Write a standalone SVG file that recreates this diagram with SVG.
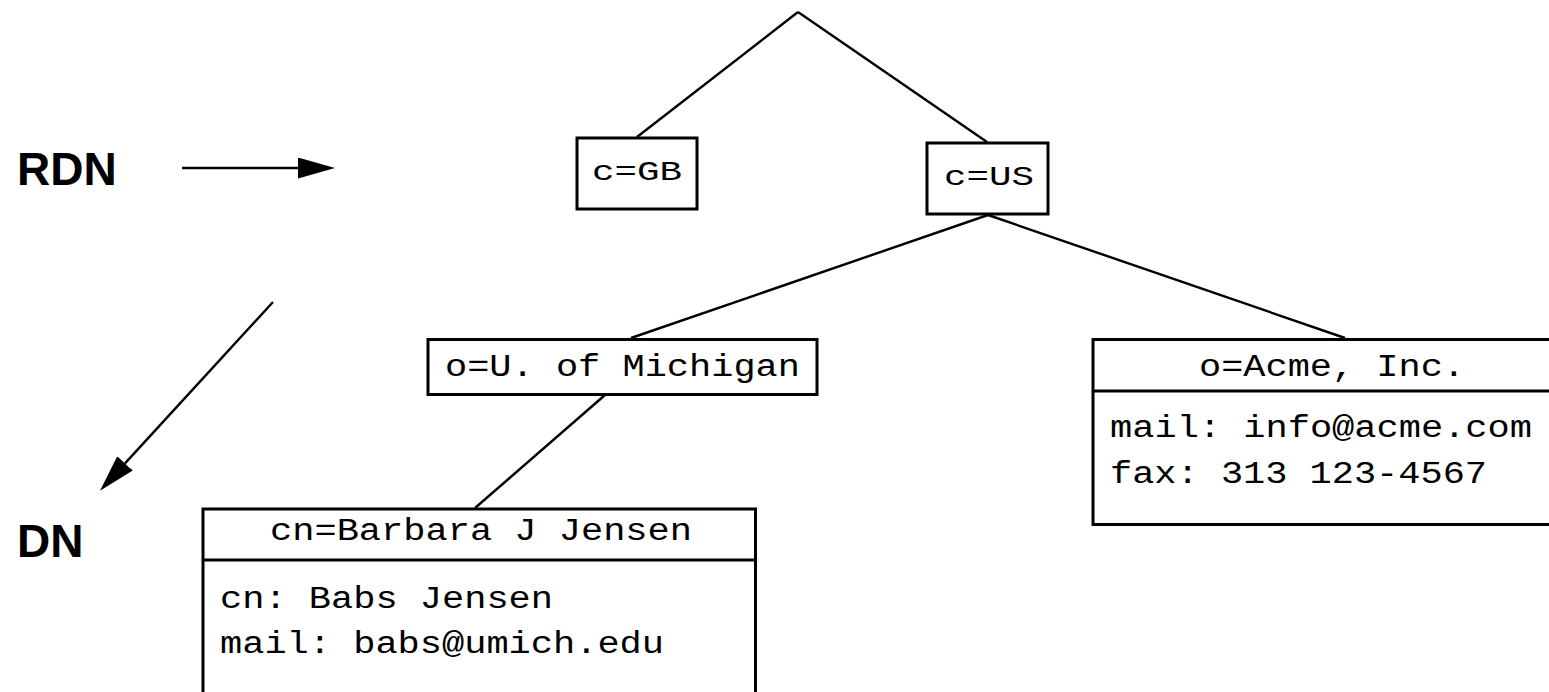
<svg xmlns="http://www.w3.org/2000/svg" width="1549" height="692" viewBox="0 0 1549 692">
<style>
.box{fill:#fff;stroke:#000;stroke-width:3}
.div{stroke:#000;stroke-width:3}
.edge{stroke:#000;stroke-width:2.4;fill:none}
.mono{font-family:"Liberation Mono","DejaVu Sans Mono",monospace;font-size:31px;fill:#000}
.small{font-family:"Liberation Mono","DejaVu Sans Mono",monospace;font-size:27px;fill:#000}
.lbl{font-family:"Liberation Sans",Arial,sans-serif;font-weight:bold;font-size:46px;fill:#000}
</style>
<defs>
<marker id="ah" viewBox="0 0 37 21" refX="0" refY="10.5" markerWidth="37" markerHeight="21" markerUnits="userSpaceOnUse" orient="auto">
<path d="M0,0 L37,10.5 L0,21 z" fill="#000"/>
</marker>
</defs>
<g id="connectors">
<line class="edge" x1="798" y1="12" x2="637" y2="137"/>
<line class="edge" x1="798" y1="12" x2="987" y2="142"/>
<line class="edge" x1="988" y1="215" x2="631" y2="338"/>
<line class="edge" x1="988" y1="215" x2="1345" y2="338"/>
<line class="edge" x1="605" y1="395" x2="475" y2="508"/>
<line class="edge" x1="182" y1="168" x2="298" y2="168" marker-end="url(#ah)"/>
<line class="edge" x1="273" y1="302" x2="125" y2="463.4" marker-end="url(#ah)"/>
</g>
<g id="label-rdn"><text class="lbl" x="17" y="185">RDN</text></g>
<g id="label-dn"><text class="lbl" x="17" y="557">DN</text></g>
<g id="node-gb">
<rect class="box" x="577" y="138" width="120" height="71"/>
<text class="small" x="592" y="180" textLength="90" lengthAdjust="spacingAndGlyphs">c=GB</text>
</g>
<g id="node-us">
<rect class="box" x="927" y="143" width="121" height="71"/>
<text class="small" x="944" y="185" textLength="90" lengthAdjust="spacingAndGlyphs">c=US</text>
</g>
<g id="node-umich">
<rect class="box" x="428" y="339.5" width="389" height="55"/>
<text class="mono" x="622.5" y="376" text-anchor="middle" textLength="355" lengthAdjust="spacingAndGlyphs">o=U. of Michigan</text>
</g>
<g id="node-acme">
<rect class="box" x="1093" y="339.5" width="480" height="185"/>
<line class="div" x1="1093" y1="391" x2="1573" y2="391"/>
<text class="mono" x="1332" y="376" text-anchor="middle" textLength="266" lengthAdjust="spacingAndGlyphs">o=Acme, Inc.</text>
<text class="mono" x="1110" y="437" textLength="422" lengthAdjust="spacingAndGlyphs">mail: info@acme.com</text>
<text class="mono" x="1110" y="483" textLength="377" lengthAdjust="spacingAndGlyphs">fax: 313 123-4567</text>
</g>
<g id="node-babs">
<rect class="box" x="203" y="509" width="552.5" height="200"/>
<line class="div" x1="203" y1="560" x2="755.5" y2="560"/>
<text class="mono" x="481" y="540" text-anchor="middle" textLength="422" lengthAdjust="spacingAndGlyphs">cn=Barbara J Jensen</text>
<text class="mono" x="220" y="608" textLength="333" lengthAdjust="spacingAndGlyphs">cn: Babs Jensen</text>
<text class="mono" x="220" y="653" textLength="444" lengthAdjust="spacingAndGlyphs">mail: babs@umich.edu</text>
</g>
</svg>
